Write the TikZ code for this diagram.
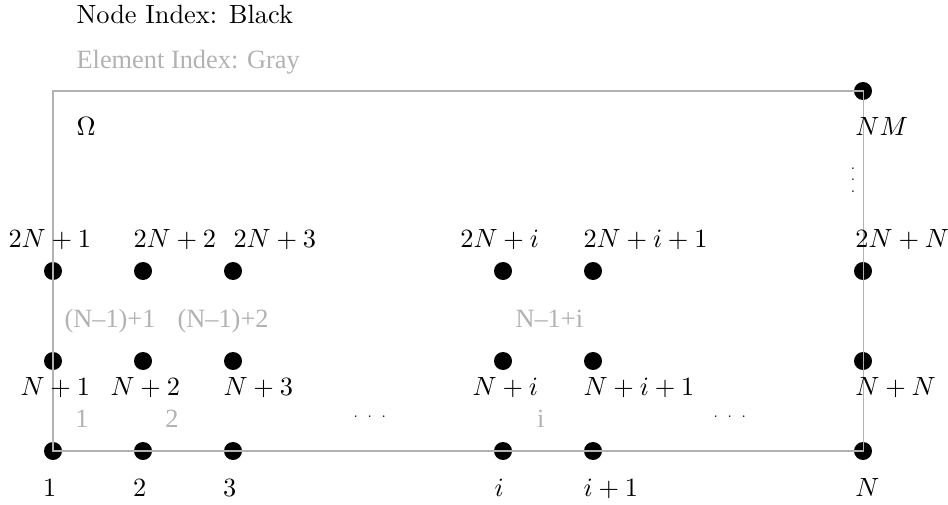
\documentclass[tikz,border=0pt]{standalone}
\usepackage{fontspec}
\newfontfamily\tms{Liberation Serif}
\begin{document}
\begin{tikzpicture}[x=1.2cm,y=1.2cm,
  dot/.style={circle,fill=black,inner sep=0pt,minimum size=0.24cm},
  lbl/.style={anchor=base west,inner sep=0pt,font=\normalsize},
  glbl/.style={anchor=base west,inner sep=0pt,text=gray!60,font=\tms},
  gnum/.style={anchor=base,inner sep=0pt,text=gray!60,font=\tms},
  hdots/.style={inner sep=0pt,font=\tiny},
  border/.style={draw=gray!60,line width=0.4pt}]
\useasboundingbox (-0.589,-0.589) rectangle (9.944,5.011);

% legend
\node[lbl] (leg1) at (0.256,4.752) {Node Index: Black};
\node[glbl] (leg2) at (0.256,4.252) {Element Index: Gray};
\node[lbl] (omega) at (0.256,3.5) {$\Omega$};

% grid nodes
\node[dot] (n1) at (0,0) {};
\node[dot] (n2) at (1,0) {};
\node[dot] (n3) at (2,0) {};
\node[dot] (ni) at (5,0) {};
\node[dot] (nip) at (6,0) {};
\node[dot] (nN) at (9,0) {};
\node[dot] (m1) at (0,1) {};
\node[dot] (m2) at (1,1) {};
\node[dot] (m3) at (2,1) {};
\node[dot] (mi) at (5,1) {};
\node[dot] (mip) at (6,1) {};
\node[dot] (mN) at (9,1) {};
\node[dot] (t1) at (0,2) {};
\node[dot] (t2) at (1,2) {};
\node[dot] (t3) at (2,2) {};
\node[dot] (ti) at (5,2) {};
\node[dot] (tip) at (6,2) {};
\node[dot] (tN) at (9,2) {};
\node[dot] (nm) at (9,4) {};

% domain boundary
\draw[border] (0,0) rectangle (9,4);

% node labels, bottom row
\node[lbl] (l1) at (-0.115,-0.508) {$1$};
\node[lbl] (l2) at (0.885,-0.508) {$2$};
\node[lbl] (l3) at (1.885,-0.508) {$3$};
\node[lbl] (li) at (4.9,-0.508) {$i$};
\node[lbl] (lip) at (5.89,-0.508) {$i+1$};
\node[lbl] (lN) at (8.91,-0.508) {$N$};

% node labels, middle row
\node[lbl] (k1) at (-0.367,0.622) {$N+1$};
\node[lbl] (k2) at (0.633,0.622) {$N+2$};
\node[lbl] (k3) at (1.889,0.622) {$N+3$};
\node[lbl] (ki) at (4.656,0.622) {$N+i$};
\node[lbl] (kip) at (5.889,0.622) {$N+i+1$};
\node[lbl] (kN) at (8.91,0.622) {$N+N$};

% node labels, top row
\node[lbl] (j1) at (-0.5,2.256) {$2N+1$};
\node[lbl] (j2) at (0.889,2.256) {$2N+2$};
\node[lbl] (j3) at (2.0,2.256) {$2N+3$};
\node[lbl] (ji) at (4.52,2.256) {$2N+i$};
\node[lbl] (jip) at (5.889,2.256) {$2N+i+1$};
\node[lbl] (jN) at (8.91,2.256) {$2N+N$};

\node[lbl] (lnm) at (8.91,3.51) {$NM$};

% element labels
\node[gnum] (e1) at (0.322,0.256) {1};
\node[gnum] (e2) at (1.322,0.256) {2};
\node[gnum] (ei) at (5.42,0.256) {i};
\node[glbl] (f1) at (0.122,1.367) {(N–1)+1};
\node[glbl] (f2) at (1.378,1.367) {(N–1)+2};
\node[glbl] (fi) at (5.133,1.367) {N–1+i};

% ellipses
\node[hdots] (d1) at (3.52,0.378) {.\kern3.3pt.\kern3.3pt.};
\node[hdots] (d2) at (7.52,0.378) {.\kern3.3pt.\kern3.3pt.};
\node[hdots] (d3) at (8.89,3.01) {\vbox{\baselineskip4.4pt\lineskiplimit0pt\hbox{.}\hbox{.}\hbox{.}}};
\end{tikzpicture}
\end{document}
